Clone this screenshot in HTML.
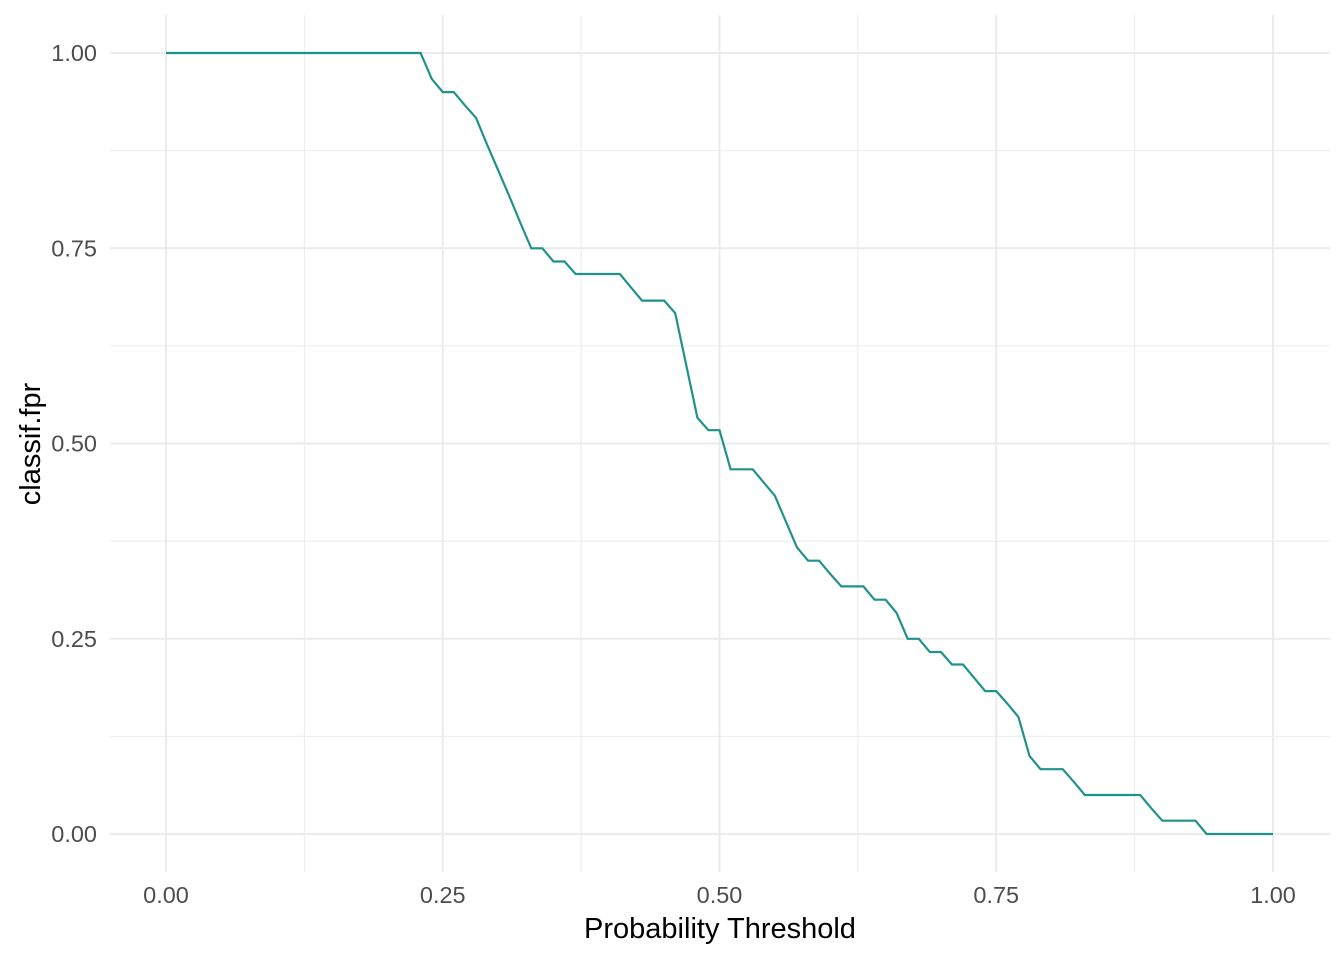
<!DOCTYPE html>
<html><head><meta charset="utf-8"><style>
body{margin:0;background:#fff;}
svg{display:block;font-family:"Liberation Sans",sans-serif;}
</style></head><body>
<svg id="chart" width="1344" height="960"></svg>
<script>
const thresholds = [];
for (let i = 0; i <= 100; i++) thresholds.push(i / 100);
const fprValues = [
1,1,1,1,1,1,1,1,1,1, 1,1,1,1,1,1,1,1,1,1, 1,1,1,1,
0.967,0.95,0.95,0.933,0.917,0.883,0.85,0.817,0.783,0.75,0.75,0.733,0.733,0.717,0.717,0.717,0.717,0.717,0.70,0.683,0.683,0.683,0.667,0.6,0.533,0.517,0.517,
0.467,0.467,0.467,0.45,0.433,0.4,0.367,0.35,0.35,0.333,0.317,0.317,0.317,0.30,0.30,0.283,0.25,0.25,0.233,0.233,0.217,0.217,0.2,0.183,0.183,0.167,0.15,0.1,0.083,0.083,0.083,0.067,0.05,0.05,0.05,0.05,0.05,0.05,0.033,0.017,0.017,0.017,0.017,0,0,0,0,0,0,0
];
const xTicks = [0, 0.25, 0.5, 0.75, 1];
const xTickLabels = ["0.00","0.25","0.50","0.75","1.00"];
const yTicks = [0, 0.25, 0.5, 0.75, 1];
const yTickLabels = ["0.00","0.25","0.50","0.75","1.00"];

const svg = document.getElementById('chart');
const NS = 'http://www.w3.org/2000/svg';
const X0 = 166, X1 = 1273, Y0 = 834, Y1 = 53;
const PL = 110, PR = 1330, PT = 15, PB = 872;
const sx = v => X0 + (X1 - X0) * v;
const sy = v => Y0 - (Y0 - Y1) * v;
function mk(tag, attrs) {
  const e = document.createElementNS(NS, tag);
  for (const k in attrs) e.setAttribute(k, attrs[k]);
  svg.appendChild(e);
  return e;
}
for (let i = 0; i < xTicks.length - 1; i++) {
  const m = (xTicks[i] + xTicks[i+1]) / 2;
  const l = mk('line', {x1: sx(m), x2: sx(m), y1: PT, y2: PB, stroke: '#ebebeb', 'stroke-width': 1});
  
  
}
for (let i = 0; i < yTicks.length - 1; i++) {
  const m = (yTicks[i] + yTicks[i+1]) / 2;
  const l = mk('line', {x1: PL, x2: PR, y1: sy(m), y2: sy(m), stroke: '#ebebeb', 'stroke-width': 1});
  
  
}
xTicks.forEach((v, i) => {
  const l = mk('line', {x1: sx(v), x2: sx(v), y1: PT, y2: PB, stroke: '#ebebeb', 'stroke-width': 2});
  
  
  const t = mk('text', {x: sx(v), y: 903, 'text-anchor': 'middle', 'font-size': 23.5, fill: '#4d4d4d'});
  t.textContent = xTickLabels[i];
  
  
});
yTicks.forEach((v, i) => {
  const l = mk('line', {x1: PL, x2: PR, y1: sy(v), y2: sy(v), stroke: '#ebebeb', 'stroke-width': 2});
  
  
  const t = mk('text', {x: 97, y: sy(v) + 8, 'text-anchor': 'end', 'font-size': 23.5, fill: '#4d4d4d'});
  t.textContent = yTickLabels[i];
  
  
});
const pts = thresholds.map((t, i) => sx(t).toFixed(1) + ',' + sy(fprValues[i]).toFixed(1)).join(' ');
const line = mk('polyline', {points: pts, fill: 'none', stroke: '#21918c', 'stroke-width': 2.2});


const xt = mk('text', {x: 720, y: 938, 'text-anchor': 'middle', 'font-size': 29, fill: '#000'});
xt.textContent = 'Probability Threshold';


const yt = mk('text', {x: 40, y: 444, 'text-anchor': 'middle', 'font-size': 29, fill: '#000', transform: 'rotate(-90 40 444)'});
yt.textContent = 'classif.fpr';


</script>
</body></html>
